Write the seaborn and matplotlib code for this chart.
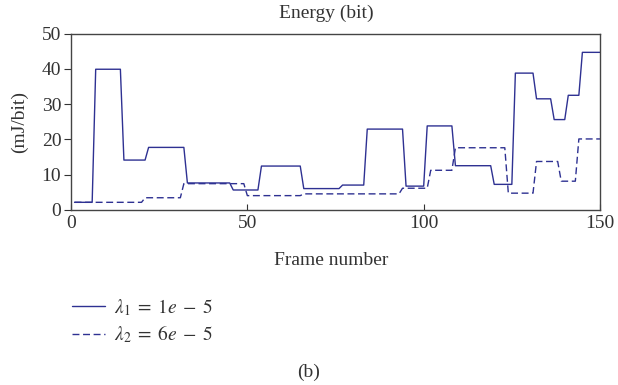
import numpy as np
import pandas as pd
import seaborn as sns
import matplotlib
matplotlib.use('Agg')
import matplotlib.pyplot as plt

# vertices of the two curves (frame, mJ/bit)
solid_frames = [1, 6, 7, 14, 15, 21, 22, 32, 33, 45, 46, 53, 54, 65, 66, 76, 77, 83, 84,
                94, 95, 100, 101, 108, 109, 119, 120, 125, 126, 131, 132, 136, 137, 140,
                141, 144, 145, 150]
solid_values = [2.1, 2.1, 39.9, 39.9, 14.1, 14.1, 17.7, 17.7, 7.6, 7.6, 5.6, 5.6, 12.4, 12.4,
                6.0, 6.0, 7.0, 7.0, 22.9, 22.9, 6.7, 6.7, 23.8, 23.8, 12.5, 12.5, 7.2, 7.2,
                38.8, 38.8, 31.5, 31.5, 25.6, 25.6, 32.5, 32.5, 44.7, 44.7]

dashed_frames = [1, 20, 21, 31, 32, 49, 50, 65, 66, 93, 94, 101, 102, 108, 109, 123, 124,
                 131, 132, 138, 139, 143, 144, 150]
dashed_values = [2.1, 2.1, 3.4, 3.4, 7.4, 7.4, 4.0, 4.0, 4.5, 4.5, 6.1, 6.1, 11.2, 11.2,
                 17.6, 17.6, 4.7, 4.7, 13.7, 13.7, 8.1, 8.1, 20.1, 20.1]

labels = [r'$\lambda_1 \;=\; 1e \;-\; 5$', r'$\lambda_2 \;=\; 6e \;-\; 5$']
x_ticks = [0, 50, 100, 150]
y_ticks = [0, 10, 20, 30, 40, 50]

df = pd.concat([
    pd.DataFrame({'frame': solid_frames, 'energy': solid_values, 'series': labels[0]}),
    pd.DataFrame({'frame': dashed_frames, 'energy': dashed_values, 'series': labels[1]}),
])

sns.set_style('ticks')
plt.rcParams['font.family'] = ['Liberation Serif', 'DejaVu Serif']
plt.rcParams['mathtext.fontset'] = 'stix'

navy = '#2e3192'
grey = '#333333'
fs = 14

fig = plt.figure(figsize=(6.18, 3.85), dpi=100)
ax = fig.add_axes([0.1149, 0.4553, 0.856, 0.4572])

sns.lineplot(data=df, x='frame', y='energy', style='series', color=navy,
             dashes={labels[0]: '', labels[1]: (5, 2.6)}, linewidth=1.0,
             estimator=None, sort=False, legend=False, ax=ax)

ax.set_xlim(0, 150)
ax.set_ylim(0, 50)
ax.set_xticks(x_ticks)
ax.set_yticks(y_ticks)
ax.tick_params(axis='x', direction='in', length=4, color=grey, labelcolor=grey,
               labelsize=fs, pad=4)
ax.tick_params(axis='y', direction='out', length=5, color=grey, labelcolor=grey,
               labelsize=fs, pad=2)
for s in ax.spines.values():
    s.set_color('#444444')
    s.set_linewidth(1.0)

ax.set_title('Energy (bit)', fontsize=fs, color=grey, pad=11)
ax.title.set_x(0.482)
ax.set_xlabel('Frame number', fontsize=fs, color=grey, labelpad=14)
ax.xaxis.label.set_x(0.491)
ax.set_ylabel('(mJ/bit)', fontsize=fs, color=grey, labelpad=10)

lines = ax.get_lines()[:2]
fig.legend(lines, labels, loc='upper left', bbox_to_anchor=(72 / 618, 0.228),
           frameon=False, fontsize=fs, handlelength=1.7, handletextpad=0.45,
           labelspacing=0.3, borderpad=0, borderaxespad=0, labelcolor=grey)

fig.text(0.5, 0.02, '(b)', ha='center', fontsize=fs, color=grey)

fig.savefig('out.png', dpi=100)
